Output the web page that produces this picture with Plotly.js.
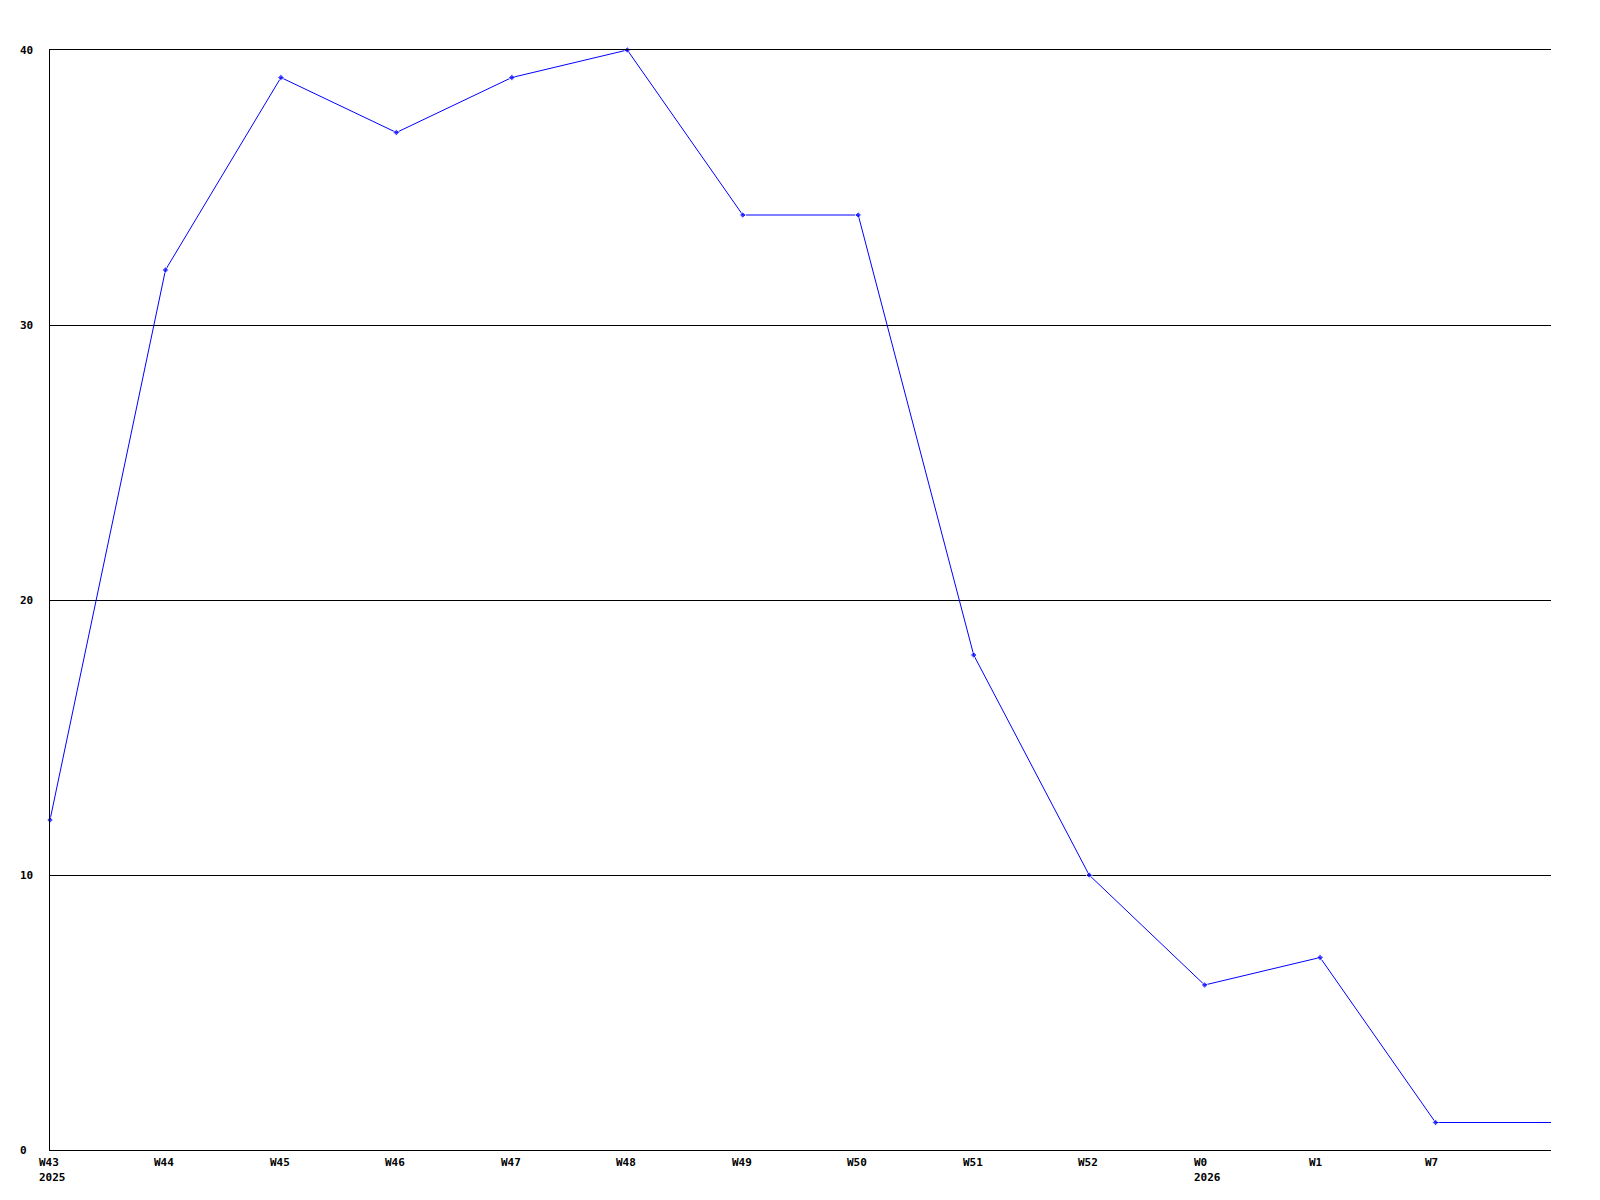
<!DOCTYPE html>
<html>
<head>
<meta charset="utf-8">
<script src="https://cdn.plot.ly/plotly-3.0.1.min.js"></script>
<style>html,body{margin:0;padding:0;background:#fff;}#chart{width:1600px;height:1200px;}</style>
</head>
<body>
<div id="chart"></div>
<script>
// Data
const weekLabels = ["W43","W44","W45","W46","W47","W48","W49","W50","W51","W52","W0","W1","W7"];
const yearLabels = ["2025","","","","","","","","","","2026","",""];
const values = [12,32,39,37,39,40,34,34,18,10,6,7,1,1];
const yTicks = [0,10,20,30,40];

const xs = values.map((v,i)=>i);
const sizes = values.map((v,i)=> i < weekLabels.length ? 5 : 0);
const fontBase = {family:"DejaVu Sans Mono, monospace", size:11, color:"#000", weight:"bold"};

const annotations = [];
weekLabels.forEach((w,i)=>{
  annotations.push({x:i, y:0, xref:'x', yref:'y', text:w, showarrow:false, borderpad:0,
    xanchor:'left', yanchor:'middle', xshift:-12, yshift:-12, font:fontBase});
  if (yearLabels[i]) annotations.push({x:i, y:0, xref:'x', yref:'y', text:yearLabels[i], showarrow:false, borderpad:0,
    xanchor:'left', yanchor:'middle', xshift:-12, yshift:-27, font:fontBase});
});
yTicks.forEach(t=>{
  annotations.push({x:0, y:t, xref:'paper', yref:'y', text:String(t), showarrow:false, borderpad:0,
    xanchor:'left', yanchor:'middle', xshift:-31, font:fontBase});
});

const trace = {
  x: xs, y: values, type:'scatter', mode:'lines+markers',
  line:{color:'#0000ff', width:1},
  marker:{color:'#0000ff', size:sizes, symbol:'diamond'},
  cliponaxis:false, hoverinfo:'none'
};

const layout = {
  width:1600, height:1200,
  margin:{l:50, r:49, t:50, b:50},
  paper_bgcolor:'#fff', plot_bgcolor:'#fff',
  showlegend:false,
  xaxis:{range:[0,13], showgrid:false, zeroline:false, showticklabels:false, ticks:'',
    showline:true, mirror:true, linecolor:'#000', linewidth:1},
  yaxis:{range:[0,40], tickvals:yTicks, showticklabels:false, ticks:'', showgrid:true,
    gridcolor:'#000', gridwidth:1, zeroline:false, showline:true, linecolor:'#000', linewidth:1},
  annotations: annotations
};

Plotly.newPlot('chart', [trace], layout, {staticPlot:true, displayModeBar:false});
</script>
</body>
</html>
